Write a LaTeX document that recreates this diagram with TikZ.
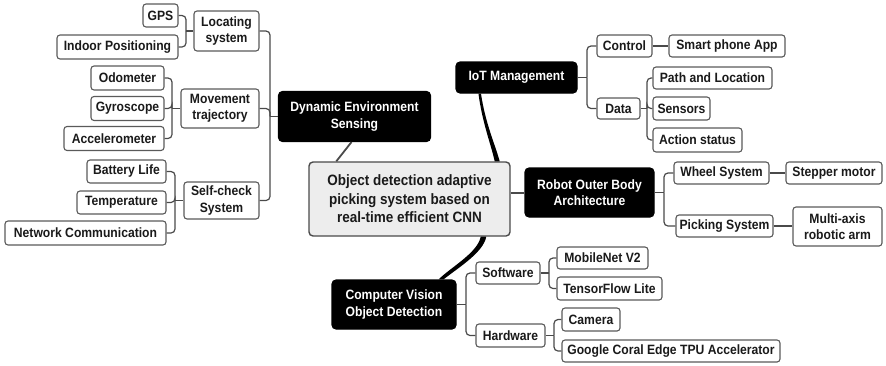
\documentclass[tikz,border=0pt]{standalone}
\usepackage{fontspec}
\newfontfamily\nf{Liberation Sans}[FakeStretch=0.9]
\usetikzlibrary{calc}
\definecolor{edge}{HTML}{4A4A4A}
\definecolor{boxline}{HTML}{5A5A5A}
\definecolor{ink}{HTML}{1A1A1A}
\definecolor{hubfill}{HTML}{EDEDED}
\begin{document}
\begin{tikzpicture}[x=1pt,y=-1pt,
  leaf/.style={draw=boxline, fill=white, rounded corners=3pt, line width=1.1pt,
    text=ink, inner sep=0pt, align=center,
    font=\nf\bfseries\fontsize{13.5}{16.5}\selectfont},
  topic/.style={leaf, draw=black, fill=black, text=white, rounded corners=4pt},
  hubbox/.style={leaf, draw=edge, fill=hubfill, line width=1.4pt, rounded corners=4pt,
    text=ink, font=\nf\bfseries\fontsize{15}{18.5}\selectfont},
  conn/.style={draw=edge, line width=1.2pt, rounded corners=4pt},
  sz/.style 2 args={minimum width=#1pt, minimum height=#2pt}
]
\useasboundingbox (0,0) rectangle (886,365);

% ---- central hub
\node[hubbox, sz={201}{74}] (hub) at (409.5,199) {Object detection adaptive\\picking system based on\\real-time efficient CNN};

% ---- four main topics
\node[topic, sz={152}{50}] (des)   at (354.5,116.5) {Dynamic Environment\\Sensing};
\node[topic, sz={121}{31}] (iot)   at (516.5,77.5)  {IoT Management};
\node[topic, sz={129}{49}] (robot) at (589.5,192.5) {Robot Outer Body\\Architecture};
\node[topic, sz={124}{49}] (cv)    at (394,304.5)   {Computer Vision\\Object Detection};

% ---- sensing branch
\node[leaf, sz={65}{40}]  (loc)    at (226.5,31)   {Locating\\system};
\node[leaf, sz={35}{23}]  (gps)    at (160.5,15.5) {GPS};
\node[leaf, sz={121}{24}] (indoor) at (117.5,47)   {Indoor Positioning};
\node[leaf, sz={78}{39}]  (move)   at (220,108.5)  {Movement\\trajectory};
\node[leaf, sz={73}{24}]  (odo)    at (127.5,78)   {Odometer};
\node[leaf, sz={73}{24}]  (gyro)   at (127.5,108.5){Gyroscope};
\node[leaf, sz={100}{24}] (accel)  at (114,138.5)  {Accelerometer};
\node[leaf, sz={75}{37}]  (self)   at (221.5,200.5){Self-check\\System};
\node[leaf, sz={79}{23}]  (batt)   at (126.5,171.5){Battery Life};
\node[leaf, sz={89}{23}]  (temp)   at (121.5,202.5){Temperature};
\node[leaf, sz={161}{24}] (net)    at (85.5,233)   {Network Communication};

% ---- IoT branch
\node[leaf, sz={55}{22}]  (ctrl)  at (624.5,46)   {Control};
\node[leaf, sz={116}{22}] (phone) at (727,46)     {Smart phone App};
\node[leaf, sz={43}{21}]  (data)  at (618.5,108.5){Data};
\node[leaf, sz={119}{22}] (path)  at (712.5,78)   {Path and Location};
\node[leaf, sz={57}{23}]  (sens)  at (681.5,108.5){Sensors};
\node[leaf, sz={89}{24}]  (act)   at (697.5,140)  {Action status};

% ---- robot body branch
\node[leaf, sz={95}{22}]  (wheel) at (721.5,173)  {Wheel System};
\node[leaf, sz={96}{22}]  (stepm) at (834,173)    {Stepper motor};
\node[leaf, sz={97}{22}]  (pick)  at (724.5,226)  {Picking System};
\node[leaf, sz={89}{39}]  (arm)   at (837.5,226.5){Multi-axis\\robotic arm};

% ---- vision branch
\node[leaf, sz={64}{22}]  (soft)  at (508,273)    {Software};
\node[leaf, sz={91}{22}]  (mob)   at (602.5,258)  {MobileNet V2};
\node[leaf, sz={105}{23}] (tfl)   at (609.5,288.5){TensorFlow Lite};
\node[leaf, sz={69}{23}]  (hard)  at (510.5,335.5){Hardware};
\node[leaf, sz={58}{23}]  (cam)   at (591,319.5)  {Camera};
\node[leaf, sz={218}{22}] (coral) at (671,351)    {Google Coral Edge TPU Accelerator};

% ---- bus lines of the elbow connectors
\coordinate (bLoc)   at (186,0);
\coordinate (bMove)  at (172,0);
\coordinate (bSelf)  at (175,0);
\coordinate (bDes)   at (270,0);
\coordinate (bIot)   at (587,0);
\coordinate (bData)  at (647,0);
\coordinate (bRobot) at (664,0);
\coordinate (bCv)    at (466,0);
\coordinate (bSoft)  at (549,0);
\coordinate (bHard)  at (554,0);

% ---- left side: children feed into a bus, then into the parent
\foreach \c in {gps,indoor}
  \draw[conn] (\c.east) -| (bLoc |- loc.west);
\draw[conn] (bLoc |- loc.west) -- (loc.west);

\foreach \c in {odo,gyro,accel}
  \draw[conn] (\c.east) -| (bMove |- move.west);
\draw[conn] (bMove |- move.west) -- (move.west);

\foreach \c in {batt,temp,net}
  \draw[conn] (\c.east) -| (bSelf |- self.west);
\draw[conn] (bSelf |- self.west) -- (self.west);

\foreach \c in {loc,move,self}
  \draw[conn] (\c.east) -| (bDes |- des.west);
\draw[conn] (bDes |- des.west) -- (des.west);

% ---- right side: parent feeds a bus that forks to the children
\draw[conn] (iot.east) -- (bIot |- iot.east);
\foreach \c in {ctrl,data}
  \draw[conn] (bIot |- iot.east) |- (\c.west);
\draw[conn] (ctrl.east) -- (phone.west);

\draw[conn] (data.east) -- (bData |- data.east);
\foreach \c in {path,sens,act}
  \draw[conn] (bData |- data.east) |- (\c.west);

\draw[conn] (robot.east) -- (bRobot |- robot.east);
\foreach \c in {wheel,pick}
  \draw[conn] (bRobot |- robot.east) |- (\c.west);
\draw[conn] (wheel.east) -- (stepm.west);
\draw[conn] (pick.east) -- (pick.east -| arm.west);

\draw[conn] (cv.east) -- (bCv |- cv.east);
\foreach \c in {soft,hard}
  \draw[conn] (bCv |- cv.east) |- (\c.west);

\draw[conn] (soft.east) -- (bSoft |- soft.east);
\foreach \c in {mob,tfl}
  \draw[conn] (bSoft |- soft.east) |- (\c.west);

\draw[conn] (hard.east) -- (bHard |- hard.east);
\foreach \c in {cam,coral}
  \draw[conn] (bHard |- hard.east) |- (\c.west);

% ---- hub to the four topics
\draw[edge, line width=1.8pt] ($(des.south)+(-3,0)$) -- ($(hub.north west)+(28,0)$);
\draw[edge, line width=1.8pt] (hub.east |- robot.west) ++(0,0.5) -- ($(robot.west)+(0,0.5)$);
% tapered branch up to IoT Management
\fill[black]
  ($(iot.south west)+(23,0)$)
    .. controls ($(iot.south west)+(27,30)$) and ($(hub.north east)+(-20,-18)$) ..
  ($(hub.north east)+(-16,0)$) -- ($(hub.north east)+(-11,0)$)
    .. controls ($(hub.north east)+(-16,-18)$) and ($(iot.south west)+(30,30)$) ..
  ($(iot.south west)+(25.5,0)$) -- cycle;
% tapered branch down to Computer Vision
\fill[black]
  ($(hub.south east)+(-30,0)$)
    .. controls ($(hub.south east)+(-33,16)$) and ($(cv.north east)+(-6,-12)$) ..
  ($(cv.north east)+(-18,0)$) -- ($(cv.north east)+(-13,0)$)
    .. controls ($(cv.north east)+(-1,-10)$) and ($(hub.south east)+(-27,16)$) ..
  ($(hub.south east)+(-24.5,0)$) -- cycle;

\end{tikzpicture}
\end{document}
